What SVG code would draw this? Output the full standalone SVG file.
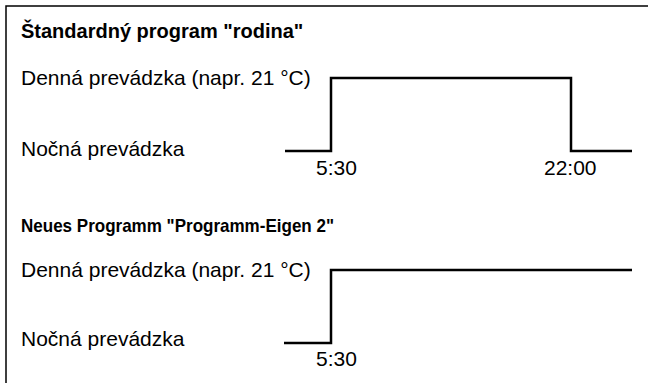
<svg xmlns="http://www.w3.org/2000/svg" width="648" height="383" viewBox="0 0 648 383">
<style>
text{font-family:"Liberation Sans",Arial,sans-serif;fill:#000;font-size:21px}
.t{font-weight:bold;font-size:20px}
.t2{font-weight:bold;font-size:18.5px}
.c{fill:none;stroke:#000;stroke-width:2.5}
.f{fill:none;stroke:#000;stroke-width:1.5}
</style>
<rect width="648" height="383" fill="#fff"/>
<path class="f" d="M6,383 V6 H648"/>
<g id="title1"><text class="t" x="21" y="38">Štandardný program "rodina"</text></g>
<g id="day1"><text x="21" y="85">Denná prevádzka (napr. 21 °C)</text></g>
<g id="night1"><text x="21" y="156">Nočná prevádzka</text></g>
<g id="t1a"><text x="316" y="175">5:30</text></g>
<g id="t1b"><text x="544" y="175">22:00</text></g>
<g id="title2"><text class="t2" x="21" y="232" textLength="313" lengthAdjust="spacingAndGlyphs">Neues Programm "Programm-Eigen 2"</text></g>
<g id="day2"><text x="21" y="277">Denná prevádzka (napr. 21 °C)</text></g>
<g id="night2"><text x="21" y="346">Nočná prevádzka</text></g>
<g id="t2a"><text x="316" y="366">5:30</text></g>
<g id="connectors">
<path class="c" d="M285,151 H331 V78 H571 V151 H632"/>
<path class="c" d="M284,343 H331 V270 H632"/>
</g>
</svg>
